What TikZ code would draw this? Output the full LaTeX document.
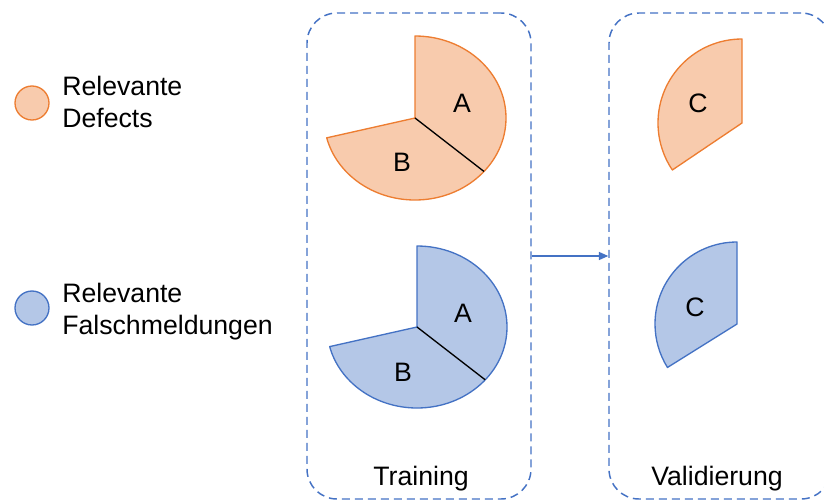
\documentclass[tikz,border=0pt]{standalone}
\usepackage{fontspec}
\setmainfont{Liberation Sans}
\usetikzlibrary{arrows.meta,calc}

\definecolor{defFill}{HTML}{F8CBAD}
\definecolor{defLine}{HTML}{ED7D31}
\definecolor{falFill}{HTML}{B4C7E7}
\definecolor{falLine}{HTML}{4472C4}
\definecolor{frameBlue}{HTML}{4472C4}

\tikzset{
  txt/.style={font=\fontsize{20}{24}\selectfont, inner sep=0pt},
  phase/.style={draw=frameBlue, line width=1.1pt, dash pattern=on 6pt off 3.75pt,
    rounded corners=22.5pt, minimum height=364.5pt, inner sep=0pt},
  defpie/.style={fill=defFill, draw=defLine, line width=1pt, line join=round},
  falpie/.style={fill=falFill, draw=falLine, line width=1pt, line join=round},
  split/.style={draw=black, line width=1pt},
  legdot/.style={circle, minimum size=25.5pt, inner sep=0pt, line width=1pt},
  flow/.style={draw=frameBlue, line width=1pt, -{Triangle[length=7pt,width=6pt]}}
}

\begin{document}
\begin{tikzpicture}[x=0.75pt, y=-0.75pt]
  \clip (0,0) rectangle (824,500);

  % legend
  \node[legdot, fill=defFill, draw=defLine] (legdef) at (32,103) {};
  \node[txt, anchor=base west] (legdeftxt) at (62,95)
    {\begin{tabular}[t]{@{}l@{}}Relevante\\Defects\end{tabular}};
  \node[legdot, fill=falFill, draw=falLine] (legfal) at (32,308) {};
  \node[txt, anchor=base west] (legfaltxt) at (62,302)
    {\begin{tabular}[t]{@{}l@{}}Relevante\\Falschmeldungen\end{tabular}};

  % phase frames
  \node[phase, minimum width=168pt] (train) at (419,256) {};
  \node[phase, minimum width=166.5pt] (valid) at (720,256) {};
  \node[txt, anchor=base] (traintxt) at (421,485) {Training};
  \node[txt, anchor=base] (validtxt) at (717,485) {Validierung};
  \draw[flow] (train) -- (valid);

  % training data: defects (parts A and B)
  \coordinate (dO) at (415,118);
  \draw[defpie] (dO) -- ++(0,-82)
    arc[start angle=-90, end angle=166, x radius=91, y radius=82] -- cycle;
  \draw[split] (dO) -- ($(dO)+(40.7:91 and 82)$);
  \node[txt] (dA) at (462,103) {A};
  \node[txt] (dB) at (402,162) {B};

  % training data: false alarms (parts A and B)
  \coordinate (fO) at (417,327);
  \draw[falpie] (fO) -- ++(0,-81)
    arc[start angle=-90, end angle=166, x radius=90, y radius=81] -- cycle;
  \draw[split] (fO) -- ($(fO)+(40.7:90 and 81)$);
  \node[txt] (fA) at (463,313) {A};
  \node[txt] (fB) at (403,372) {B};

  % validation data: part C
  \coordinate (dC) at (742,123);
  \draw[defpie] (dC) -- ++(0,-84) arc[start angle=-90, end angle=-214, radius=84] -- cycle;
  \node[txt] (dCl) at (698,103) {C};

  \coordinate (fC) at (737,324);
  \draw[falpie] (fC) -- ++(0,-82) arc[start angle=-90, end angle=-212, radius=82] -- cycle;
  \node[txt] (fCl) at (695,307) {C};
\end{tikzpicture}
\end{document}
